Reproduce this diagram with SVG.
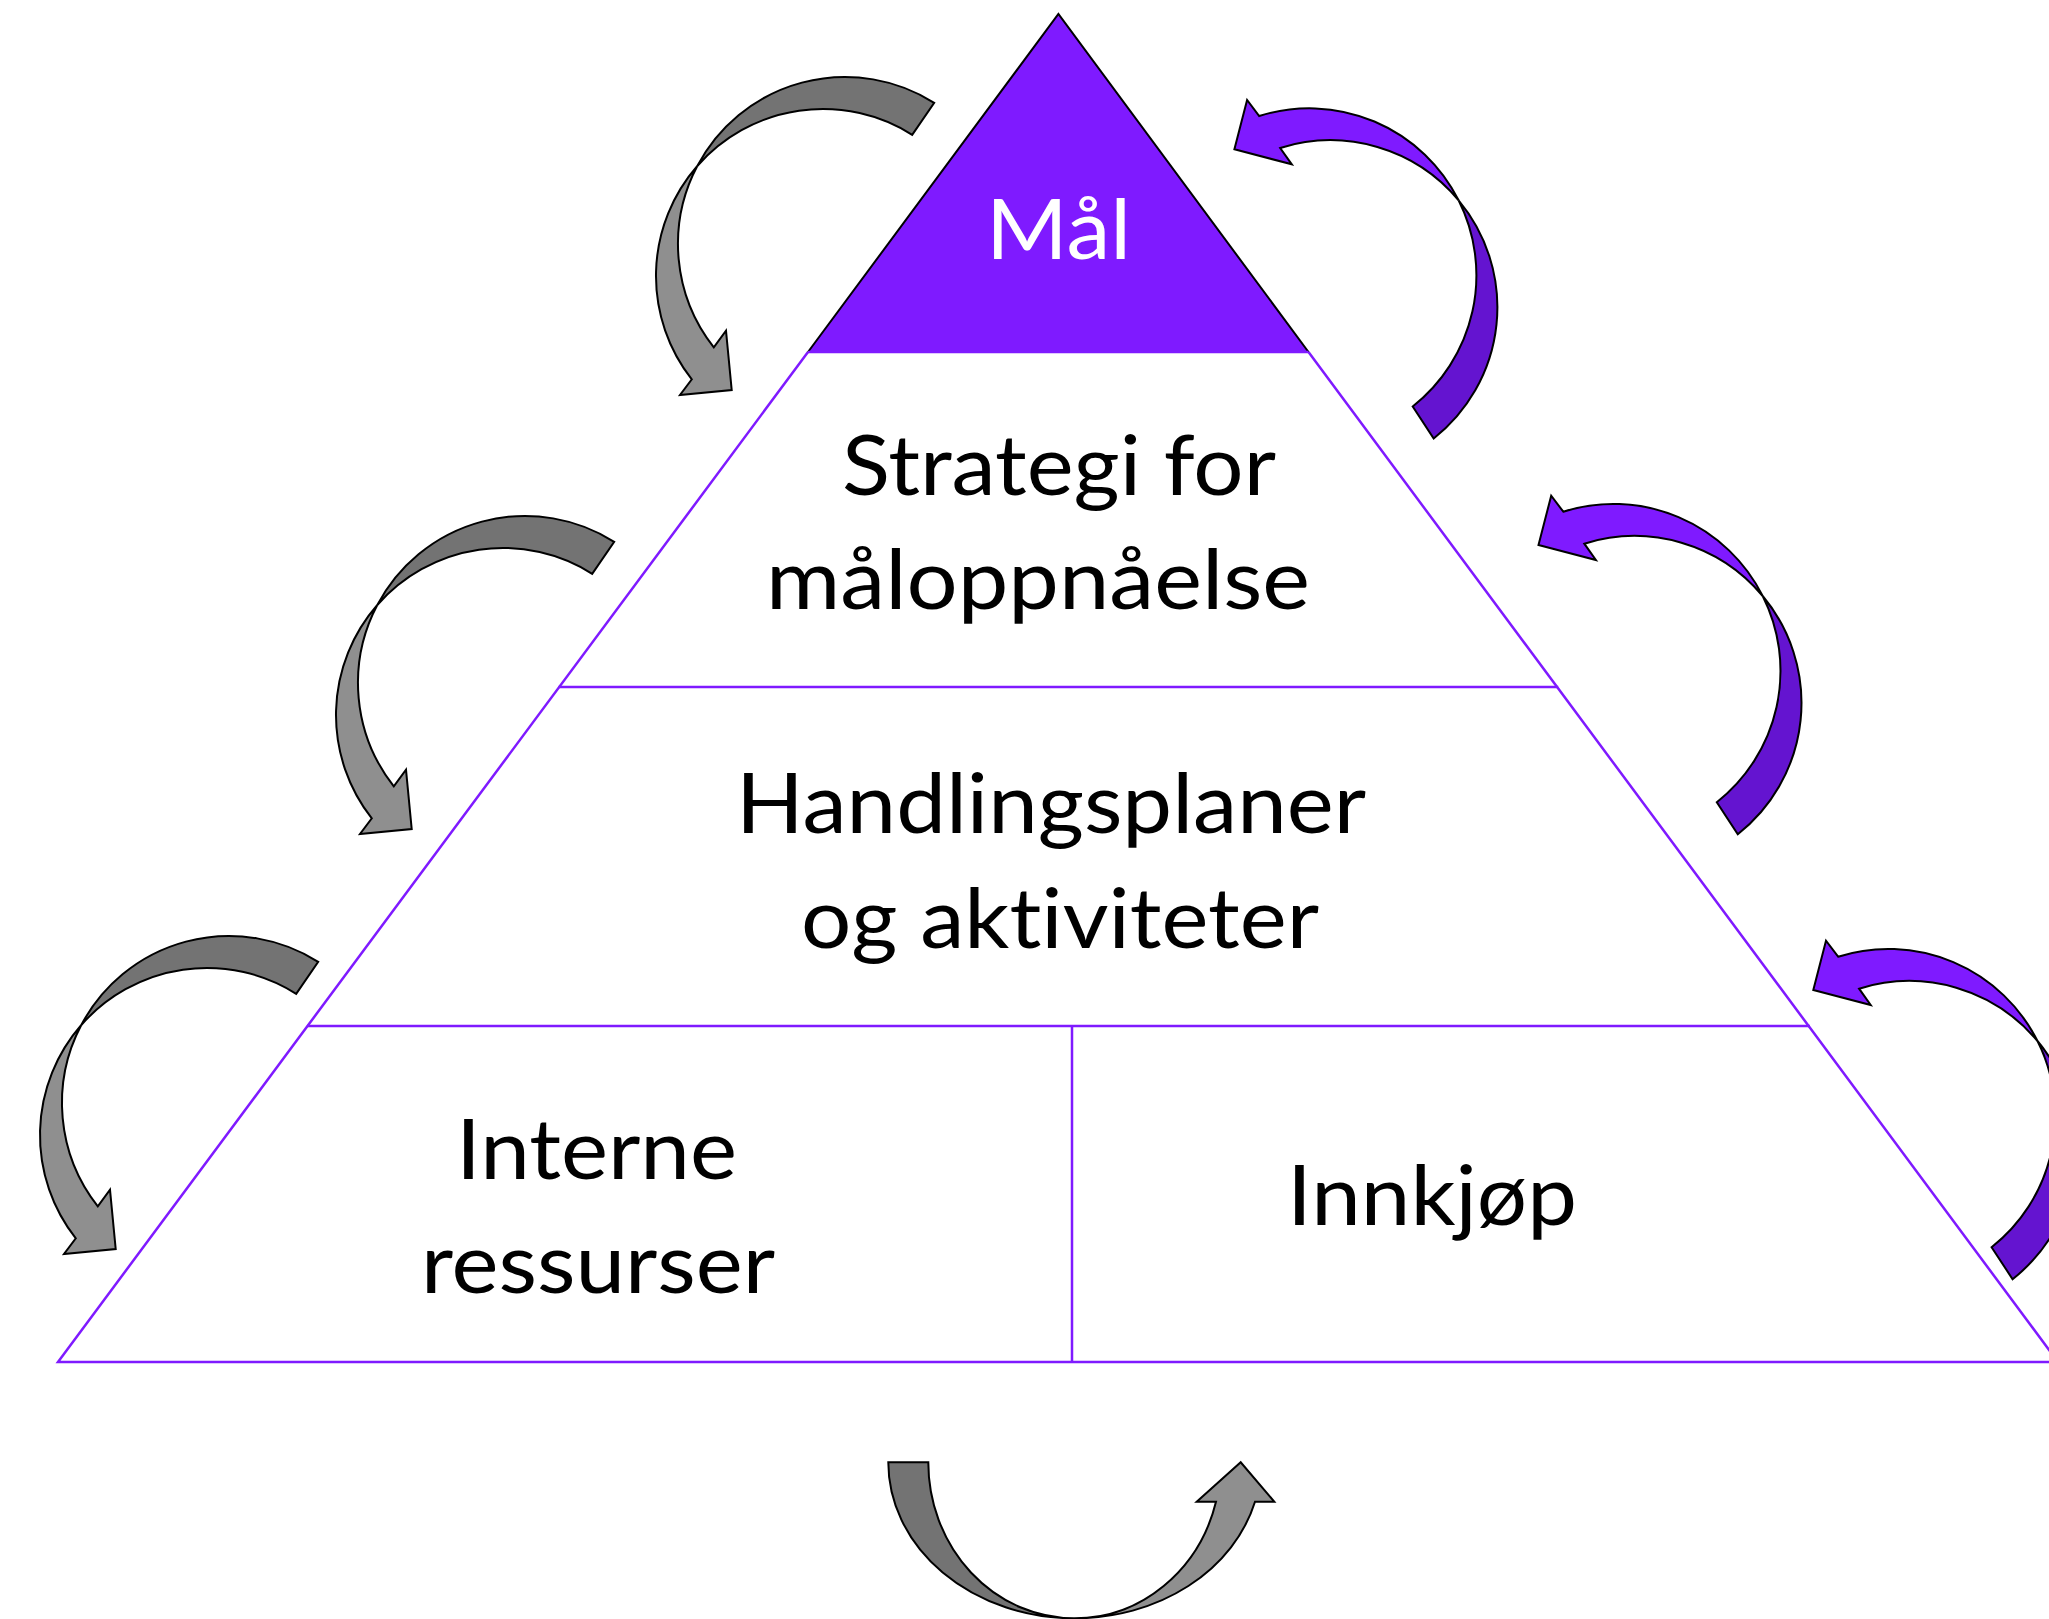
<svg xmlns="http://www.w3.org/2000/svg" width="2049" height="1619" viewBox="0 0 2049 1619">
<defs>
<style>
.ln{stroke:#7F1AFF;stroke-width:2.5;fill:none}
.lbl{font-family:Lato,"Liberation Sans",sans-serif;font-size:84px;fill:#000;font-variant-ligatures:none;font-feature-settings:"liga" 0,"clig" 0}
.ar{stroke:#000;stroke-width:2;stroke-linejoin:miter}
.gt{fill:#737373}.gh{fill:#8F8F8F}.pt{fill:#6414D0}.ph{fill:#7F1AFF}
</style>
<g id="greyArrow">
<path class="ar gt" d="M934.2,102.8 A167,167 0 0 0 697.3,166 A167,167 0 0 1 912.2,134.8 Z"/>
<path class="ar gh" d="M697.3,166 A167,167 0 0 0 691.8,379.3 L680,395 L731.7,390 L726,330.7 L713.8,347.3 A167,167 0 0 1 697.3,166 Z"/>
</g>
<g id="purpleArrow">
<path class="ar pt" d="M224.2,51 A167,167 0 0 1 178.3,257.2 L199.3,289.2 A167,167 0 0 0 224.2,51 Z"/>
<path class="ar ph" d="M0,0 L12.7,-49.3 L24.8,-33.3 A167,167 0 0 1 224.2,51 A167,167 0 0 0 45.8,-1.3 L57.4,15 Z"/>
</g>
</defs>
<rect width="2049" height="1619" fill="#fff"/>
<g id="pyramid">
<path class="ln" d="M808,352 L58,1362 L2058,1362 L1308.5,352"/>
<line class="ln" x1="558.6" y1="687" x2="1558.2" y2="687"/>
<line class="ln" x1="306.9" y1="1026" x2="1809.9" y2="1026"/>
<line class="ln" x1="1072" y1="1026" x2="1072" y2="1362"/>
</g>
<g id="node-mal">
<path d="M808,352 L1058.4,14 L1308.5,352 Z" fill="#7F1AFF"/>
<path d="M808,352 L1058.4,14 L1308.5,352" fill="none" stroke="#000" stroke-width="2"/>
<line class="ln" x1="808" y1="352" x2="1308.5" y2="352"/>
<text class="lbl" x="986" y="259" textLength="145" lengthAdjust="spacingAndGlyphs" style="fill:#fff">Mål</text>
</g>
<g id="node-strategi">
<text class="lbl" x="842" y="495" textLength="434" lengthAdjust="spacingAndGlyphs">Strategi for</text>
<text class="lbl" x="766" y="609" textLength="544" lengthAdjust="spacingAndGlyphs">måloppnåelse</text>
</g>
<g id="node-handling">
<text class="lbl" x="736" y="833" textLength="630" lengthAdjust="spacingAndGlyphs">Handlingsplaner</text>
<text class="lbl" x="801" y="948" textLength="518" lengthAdjust="spacingAndGlyphs">og aktiviteter</text>
</g>
<g id="node-interne">
<text class="lbl" x="456" y="1179" textLength="281" lengthAdjust="spacingAndGlyphs">Interne</text>
<text class="lbl" x="421" y="1293" textLength="354" lengthAdjust="spacingAndGlyphs">ressurser</text>
</g>
<g id="node-innkjop">
<text class="lbl" x="1287" y="1225" textLength="290" lengthAdjust="spacingAndGlyphs">Innkjøp</text>
</g>
<g id="connectors">
<use href="#greyArrow"/>
<use href="#greyArrow" transform="translate(-320,439)"/>
<use href="#greyArrow" transform="translate(-616,859)"/>
<use href="#purpleArrow" transform="translate(1234.4,149.3)"/>
<use href="#purpleArrow" transform="translate(1538.5,545)"/>
<use href="#purpleArrow" transform="translate(1813.3,990)"/>
<g id="bottomArrow">
<path class="ar gt" d="M888.3,1462.3 A186,156 0 0 0 1074,1618.3 A146,156 0 0 1 928.3,1462.3 Z"/>
<path class="ar gh" d="M1074,1618.3 A186,156 0 0 0 1255,1501.7 L1274.3,1501.7 L1240.7,1462.3 L1196.7,1501.7 L1216,1501.7 A146,156 0 0 1 1074,1618.3 Z"/>
</g>
</g>
</svg>
